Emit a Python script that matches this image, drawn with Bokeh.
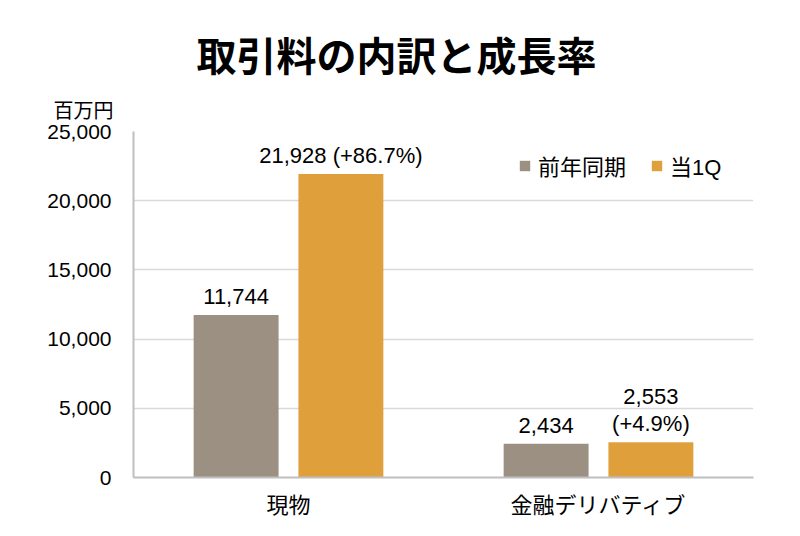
from bokeh.plotting import figure
from bokeh.models import ColumnDataSource, FactorRange, Legend, LegendItem, Title, NumeralTickFormatter, FixedTicker
from bokeh.transform import dodge
from bokeh.core.properties import value
from bokeh.embed import file_html
from bokeh.resources import INLINE

categories = ["現物", "金融デリバティブ"]
prev_year = [11744, 2434]
current_q = [21928, 2553]
prev_labels = ["11,744", "2,434"]
curr_labels = ["21,928 (+86.7%)", "2,553\n(+4.9%)"]
series_names = ["前年同期", "当1Q"]
y_ticks = [0, 5000, 10000, 15000, 20000, 25000]
title_text = "取引料の内訳と成長率"
unit_text = "百万円"

GRAY = "#9B9082"
ORANGE = "#DFA03C"
FONT = "Liberation Sans, Noto Sans CJK JP"
JFONT = "Noto Sans CJK JP"

src = ColumnDataSource(dict(cat=categories, prev=prev_year, curr=current_q,
                            prev_lab=prev_labels, curr_lab=curr_labels))

p = figure(width=784, height=520, x_range=FactorRange(*categories), y_range=(0, 25000),
           output_backend="svg", toolbar_location=None,
           min_border_left=133, min_border_right=31, min_border_top=131, min_border_bottom=43)
p.outline_line_color = None

r1 = p.vbar(x=dodge("cat", -0.169, range=p.x_range), top="prev", width=0.274, source=src,
            fill_color=GRAY, line_color=None)
r2 = p.vbar(x=dodge("cat", 0.169, range=p.x_range), top="curr", width=0.274, source=src,
            fill_color=ORANGE, line_color=None)

p.text(x=dodge("cat", -0.169, range=p.x_range), y="prev", text="prev_lab", source=src,
       text_align="center", text_baseline="bottom", y_offset=-11,
       text_font=value(FONT), text_font_size="22px", text_color="#000000")
p.text(x=dodge("cat", 0.169, range=p.x_range), y="curr", text="curr_lab", source=src,
       text_align="center", text_baseline="bottom", y_offset=-6, text_line_height=1.1,
       text_font=value(FONT), text_font_size="22px", text_color="#000000")

# axes
p.yaxis.ticker = FixedTicker(ticks=y_ticks)
p.yaxis.formatter = NumeralTickFormatter(format="0,0")
p.yaxis.major_tick_line_color = None
p.yaxis.major_tick_out = 0
p.yaxis.major_tick_in = 0
p.yaxis.minor_tick_line_color = None
p.yaxis.major_label_standoff = 22
p.yaxis.major_label_text_font = FONT
p.yaxis.major_label_text_font_size = "21px"
p.yaxis.major_label_text_color = "#000000"
p.yaxis.axis_line_color = "#BFBFBF"
p.yaxis.axis_line_width = 2

p.xaxis.major_tick_line_color = None
p.xaxis.major_tick_out = 0
p.xaxis.major_tick_in = 0
p.xaxis.minor_tick_line_color = None
p.xaxis.major_label_standoff = 15
p.xaxis.major_label_text_font = FONT
p.xaxis.major_label_text_font_size = "22px"
p.xaxis.major_label_text_color = "#000000"
p.xaxis.axis_line_color = "#BFBFBF"
p.xaxis.axis_line_width = 2

p.xgrid.grid_line_color = None
p.ygrid.grid_line_color = "#D9D9D9"
p.ygrid.grid_line_width = 1.5

legend = Legend(items=[LegendItem(label=series_names[0], renderers=[r1]),
                       LegendItem(label=series_names[1], renderers=[r2])],
                orientation="horizontal", location=(385, 296),
                glyph_width=13, glyph_height=13, label_standoff=7, spacing=24,
                padding=0, margin=0, border_line_color=None, background_fill_alpha=0,
                label_text_font=FONT, label_text_font_size="22px", label_text_color="#000000")
p.add_layout(legend, "center")

unit_title = Title(text=unit_text, align="left", offset=-80, standoff=16,
                   text_font=JFONT, text_font_size="20px", text_font_style="normal",
                   text_color="#000000")
p.add_layout(unit_title, "above")

p.title = Title(text=title_text, align="left", offset=63, standoff=4,
                text_font=JFONT, text_font_size="40px", text_font_style="bold",
                text_color="#000000")

open("out.html", "w").write(file_html(p, INLINE))
